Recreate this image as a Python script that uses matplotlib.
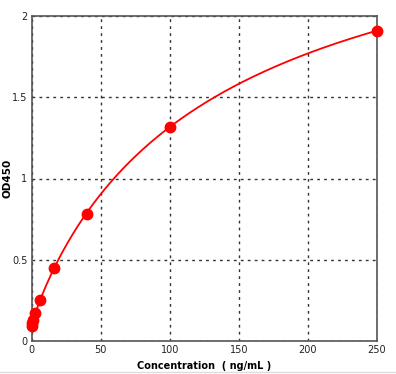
import numpy as np
from matplotlib import pyplot as plt

conc = [0, 0.41, 1.02, 2.56, 6.4, 16, 40, 100, 250]
od = [0.09, 0.11, 0.13, 0.17, 0.25, 0.45, 0.78, 1.32, 1.91]
xticks = [0, 50, 100, 150, 200, 250]
yticks = [0, 0.5, 1, 1.5, 2]
yticklabels = ['0', '0.5', '1', '1.5', '2']

x = np.array(conc, dtype=float)
y = np.array(od, dtype=float)


# four-parameter fit of the standards, a, b solved linearly for each (c, d)
def fit4pl(x, y):
    best = None
    for c in np.linspace(20, 600, 300):
        for d in np.linspace(0.5, 1.5, 101):
            g = x**d / (c**d + x**d)
            A = np.column_stack([np.ones_like(g), g])
            coef, res, _, _ = np.linalg.lstsq(A, y, rcond=None)
            err = np.sum((A @ coef - y)**2)
            if best is None or err < best[0]:
                best = (err, coef[0], coef[1], c, d)
    return best[1:]


a, b, c, d = fit4pl(x, y)
xs = np.linspace(0, 250, 400)
ys = a + b * xs**d / (c**d + xs**d)

fig = plt.figure(figsize=(3.96, 3.74), dpi=100)
ax = fig.add_axes([31.5/396, 33/374, 345.5/396, 325/374])

ax.plot(xs, ys, color='#ff0000', lw=1.3, zorder=3)
ax.plot(x, y, 'o', color='#ff0000', ms=7.5, zorder=4, clip_on=False)

ax.set_xlim(0, 250)
ax.set_ylim(0, 2)
ax.set_xticks(xticks)
ax.set_yticks(yticks)
ax.set_yticklabels(yticklabels)
ax.grid(True, color='#333333', linestyle=(0, (2, 3)), linewidth=1)
ax.tick_params(length=0, labelsize=7, colors='#222222', pad=3)
for s in ax.spines.values():
    s.set_color('#555555')
    s.set_linewidth(1.2)

ax.set_xlabel('Concentration  ( ng/mL )', fontsize=7, fontweight='bold', labelpad=4)
ax.set_ylabel('OD450', fontsize=7.5, fontweight='bold')
ax.yaxis.set_label_coords(-0.056, 0.5)

fig.add_artist(plt.Line2D([0, 1], [2.5/374, 2.5/374], color='#dddddd', lw=1))

plt.savefig('out.png', dpi=100)
